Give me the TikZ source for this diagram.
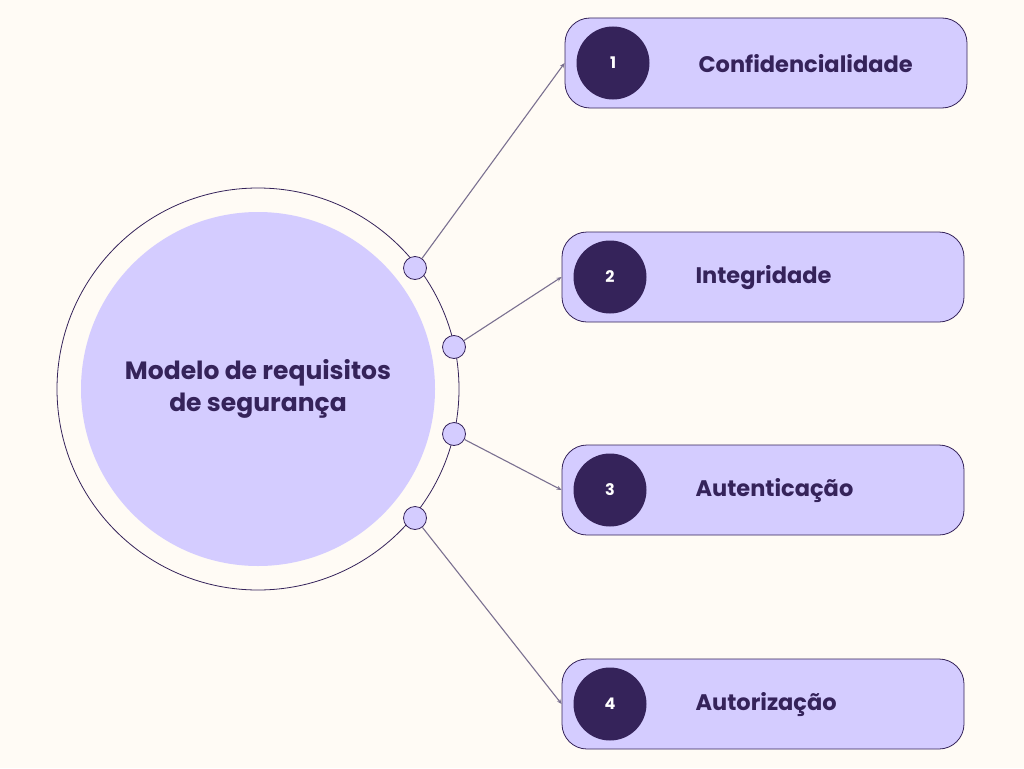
\documentclass[tikz,border=0pt]{standalone}
\usepackage{fontspec}
\setmainfont{Poppins}
\usetikzlibrary{arrows.meta}
\definecolor{bg}{HTML}{FFFBF5}
\definecolor{lav}{HTML}{D4CCFF}
\definecolor{dark}{HTML}{35235A}
\definecolor{linec}{HTML}{7A7090}
\begin{document}
\begin{tikzpicture}[x=1pt,y=-1pt,
  box/.style={draw=dark, line width=0.8pt, fill=lav, rounded corners=25pt, minimum width=402pt, minimum height=90pt, inner sep=0pt},
  num/.style={circle, fill=dark, minimum size=73pt, inner sep=0pt, text=white, font=\fontsize{16}{18}\selectfont\bfseries},
  lbl/.style={anchor=west, text=dark, font=\fontsize{22.5}{26}\selectfont\bfseries},
  dot/.style={circle, draw=dark, line width=0.8pt, fill=lav, minimum size=23pt, inner sep=0pt},
  conn/.style={draw=linec, line width=1.1pt, -{Stealth[length=5pt,width=4pt]}}]
\useasboundingbox (0,0) rectangle (1024,768);
\fill[bg] (0,0) rectangle (1024,768);
% central circles
\node[circle, draw=dark, line width=0.8pt, minimum size=402pt, inner sep=0pt] (outer) at (258,389) {};
\node[circle, fill=lav, minimum size=354pt, inner sep=0pt, align=center, text=dark, font=\fontsize{25}{32}\selectfont\bfseries] (inner) at (258,389) {Modelo de requisitos\\de segurança};
% boxes
\node[box] (b1) at (766,63) {};
\node[box] (b2) at (763,277) {};
\node[box] (b3) at (763,490) {};
\node[box] (b4) at (763,704) {};
\node[num] (n1) at (613,63) {1};
\node[num] (n2) at (610,277) {2};
\node[num] (n3) at (610,490) {3};
\node[num] (n4) at (610,704) {4};
\node[lbl] (l1) at (695,64) {Confidencialidade};
\node[lbl] (l2) at (692,278) {Integridade};
\node[lbl] (l3) at (692,491) {Autenticação};
\node[lbl] (l4) at (692,705) {Autorização};
% small dots
\node[dot] (d1) at (415,268) {};
\node[dot] (d2) at (454,347) {};
\node[dot] (d3) at (454,434) {};
\node[dot] (d4) at (415,518) {};
% connectors
\draw[conn] (d1) -- (b1.west);
\draw[conn] (d2) -- (b2.west);
\draw[conn] (d3) -- (b3.west);
\draw[conn] (d4) -- (b4.west);
\end{tikzpicture}
\end{document}
